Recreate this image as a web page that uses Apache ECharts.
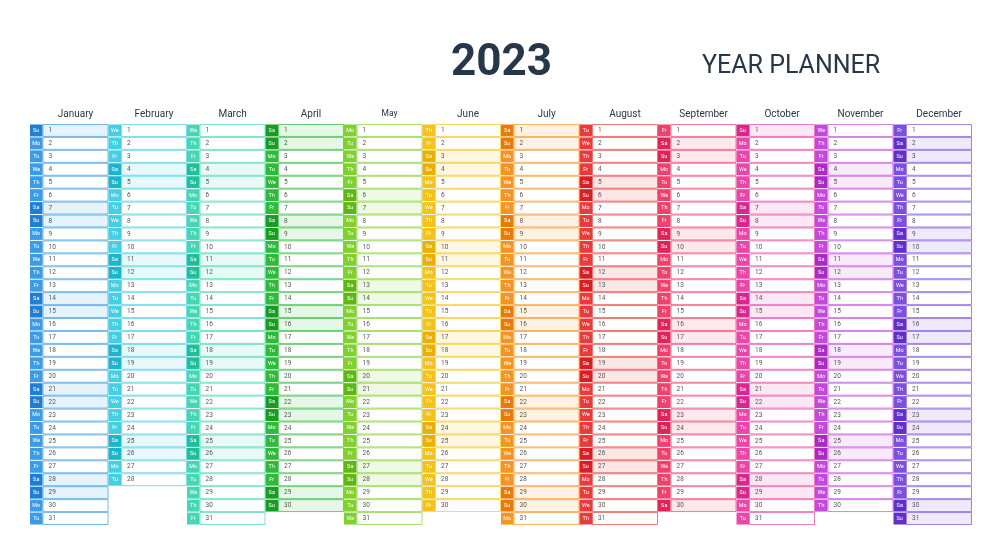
<!DOCTYPE html>
<html><head><meta charset="utf-8">
<script src="https://cdn.jsdelivr.net/npm/echarts@6/dist/echarts.min.js"></script>
<style>html,body{margin:0;background:#fff}#c{width:1000px;height:551px}</style>
</head><body><div id="c"></div>
<script>
const year = 2023;
const months = ['January','February','March','April','May','June','July','August','September','October','November','December'];
const daysInMonth = [31,28,31,30,31,30,31,31,30,31,30,31];
const weekdayNames = ['Su','Mo','Tu','We','Th','Fr','Sa'];
const monthColors = ['#3a9be6','#45cfe3','#45d6b4','#2fbb3a','#7fd12c','#f6c21a','#f69322','#ea3a3a','#f0416e','#ea45a8','#c548dc','#7d4fe0'];
const weekendColors = ['#1f7fd4','#1bb6cc','#1fbf9a','#189c24','#5fb714','#eab000','#ea7a08','#d81f24','#e0245a','#d82890','#ab2ac6','#6130cc'];

const cells = [];
months.forEach((m,mi)=>{
  for(let d=1; d<=daysInMonth[mi]; d++){
    const wd = new Date(year, mi, d).getDay();
    cells.push([mi, d, wd]);
  }
});
function hexA(h,a){const n=parseInt(h.slice(1),16);return `rgba(${n>>16},${(n>>8)&255},${n&255},${a})`;}

const chart = echarts.init(document.getElementById('c'));
chart.setOption({
  animation:false,
  title:[
    {text:'2023',left:446,top:37,textStyle:{fontFamily:'Roboto',fontSize:44,fontWeight:'bold',color:'#26374a'}},
    {text:'YEAR PLANNER',left:697,top:49,textStyle:{fontFamily:'Roboto',fontSize:25,fontWeight:'normal',color:'#26374a'}}
  ],
  grid:{left:30,right:28,top:124,bottom:26},
  xAxis:{type:'value',min:0,max:12,show:false},
  yAxis:{type:'value',min:0.5,max:31.5,inverse:true,show:false},
  series:[
    {type:'custom',data:cells,renderItem:(p,api)=>{
      const mi=api.value(0),d=api.value(1),wd=api.value(2);
      const tl=api.coord([mi,d-0.5]);const br=api.coord([mi+1,d+0.5]);
      const h=br[1]-tl[1], w=br[0]-tl[0];
      const dw=12.5, cw=w-dw-1;
      const we = wd===0||wd===6;
      const col=monthColors[mi];
      return {type:'group',children:[
        {type:'rect',shape:{x:tl[0],y:tl[1]+0.5,width:dw,height:h-1},style:{fill:we?weekendColors[mi]:col}},
        {type:'text',style:{x:tl[0]+dw/2,y:tl[1]+h/2,text:weekdayNames[wd],fill:'#fff',fontSize:5.5,fontFamily:'Roboto',align:'center',verticalAlign:'middle'}},
        {type:'rect',shape:{x:tl[0]+dw+0.5,y:tl[1]+0.5,width:cw,height:h-1},style:{fill:we?hexA(col,0.12):'#fff',stroke:hexA(col,0.7),lineWidth:1}},
        {type:'text',style:{x:tl[0]+dw+6,y:tl[1]+h/2,text:String(d),fill:'#555',fontSize:6.5,fontFamily:'Roboto',verticalAlign:'middle'}}
      ]};
    }},
    {type:'custom',data:months.map((m,i)=>[i]),renderItem:(p,api)=>{
      const i=api.value(0);const c=api.coord([i+0.58,0.5]);
      return {type:'text',style:{x:c[0],y:c[1]-10,text:months[i],fill:'#26374a',fontSize:i===4?8.5:10,fontFamily:'Roboto',align:'center',verticalAlign:'middle'}};
    }}
  ]
});
</script></body></html>
